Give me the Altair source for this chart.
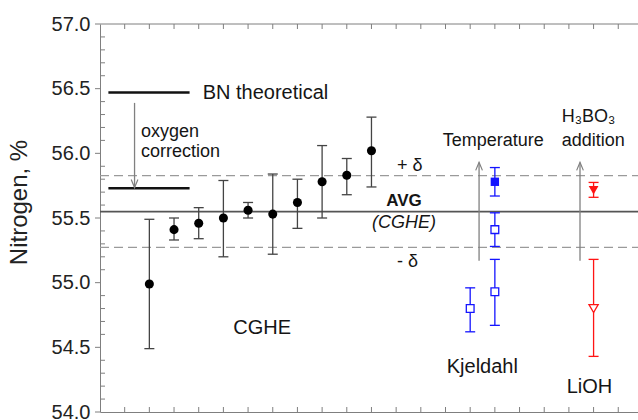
import altair as alt
import pandas as pd

# ---------------- data ----------------
# CGHE results
cghe_run = [2, 3, 4, 5, 6, 7, 8, 9, 10, 11]
cghe_n = [54.99, 55.41, 55.46, 55.50, 55.56, 55.53, 55.62, 55.78, 55.83, 56.02]
cghe_lo = [54.49, 55.33, 55.34, 55.20, 55.50, 55.22, 55.42, 55.50, 55.68, 55.74]
cghe_hi = [55.49, 55.50, 55.58, 55.79, 55.62, 55.84, 55.80, 56.06, 55.96, 56.28]

# Kjeldahl results (open = low temperature, filled = high temperature)
kj_open_run = [15, 16, 16]
kj_open_n = [54.80, 54.93, 55.41]
kj_open_lo = [54.62, 54.67, 55.28]
kj_open_hi = [54.96, 55.18, 55.54]
kj_fill_run = [16]
kj_fill_n = [55.78]
kj_fill_lo = [55.67]
kj_fill_hi = [55.89]

# LiOH results (open = without, filled = with H3BO3 addition)
li_open_run = [20]
li_open_n = [54.80]
li_open_lo = [54.43]
li_open_hi = [55.18]
li_fill_run = [20]
li_fill_n = [55.715]
li_fill_lo = [55.66]
li_fill_hi = [55.775]

# reference levels
bn_theoretical = 56.47
bn_corrected = 55.73
avg_cghe = 55.55
delta = 0.277

X_MAX = 21.8
y_major = [54.0, 54.5, 55.0, 55.5, 56.0, 56.5, 57.0]
y_minor = [round(54.0 + 0.1 * i, 1) for i in range(31) if i % 5 != 0]
x_ticks = list(range(1, 22))

# annotations (data coordinates)
ann_big = pd.DataFrame({
    "t": ["BN theoretical", "CGHE", "Kjeldahl", "LiOH"],
    "x": [4.16, 5.40, 14.05, 18.91],
    "y": [56.418, 54.60, 54.30, 54.145],
})
ann_mid = pd.DataFrame({
    "t": ["oxygen", "correction", "Temperature", "addition", "H\u2083BO\u2083", "+ \u03b4", "- \u03b4"],
    "x": [1.66, 1.66, 13.89, 18.71, 18.71, 12.03, 12.03],
    "y": [56.124, 55.974, 56.057, 56.057, 56.245, 55.863, 55.123],
})
ann_avg = pd.DataFrame({"t": ["AVG"], "x": [12.32], "y": [55.593]})
ann_cghe = pd.DataFrame({"t": ["(CGHE)"], "x": [12.32], "y": [55.42]})

# ---------------- styles ----------------
FONT = "Liberation Sans"
GRAY = "#7f7f7f"
TXT = "#151515"

X_SCALE = alt.Scale(domain=[0, X_MAX], nice=False, zero=False)
Y_SCALE = alt.Scale(domain=[54, 57], nice=False, zero=False)
x_axis = alt.Axis(title=None, labels=False, ticks=False, grid=False,
                  domainColor=GRAY, domainWidth=1)
y_axis = alt.Axis(title="Nitrogen, %", values=y_major, format=".1f", ticks=False,
                  grid=False, labelPadding=10, labelFontSize=20, labelFont=FONT,
                  labelColor="#222222", titleFontSize=24, titleFont=FONT,
                  titleFontWeight="normal", titleColor="#222222", titleX=-73.5,
                  titleY=178, titleAngle=270, titleAlign="center",
                  titleBaseline="alphabetic", domainColor=GRAY, domainWidth=1)


def X(f):
    return alt.X(f, type="quantitative", scale=X_SCALE, axis=x_axis)


def Y(f):
    return alt.Y(f, type="quantitative", scale=Y_SCALE, axis=y_axis)


layers = []

# ----- frame: top border and tick marks -----
top_df = pd.DataFrame({"x1": [0.0], "x2": [X_MAX], "y": [57.0]})
layers.append(alt.Chart(top_df).mark_rule(color=GRAY, strokeWidth=1).encode(
    x=X("x1"), x2=alt.X2("x2"), y=Y("y")))

xt_df = pd.DataFrame({"x": x_ticks})
layers.append(alt.Chart(xt_df).mark_rule(color=GRAY, strokeWidth=1).encode(
    x=X("x"), y=alt.value(388), y2=alt.value(383)))
layers.append(alt.Chart(xt_df).mark_rule(color=GRAY, strokeWidth=1).encode(
    x=X("x"), y=alt.value(0), y2=alt.value(5)))

ymaj_df = pd.DataFrame({"y": y_major})
ymin_df = pd.DataFrame({"y": y_minor})
layers.append(alt.Chart(ymaj_df).mark_rule(color=GRAY, strokeWidth=1).encode(
    y=Y("y"), x=alt.value(-5), x2=alt.value(0)))
layers.append(alt.Chart(ymin_df).mark_rule(color=GRAY, strokeWidth=1).encode(
    y=Y("y"), x=alt.value(0), x2=alt.value(5)))

# ----- reference levels -----
lvl_df = pd.DataFrame({
    "x1": [0.0], "x2": [X_MAX], "avg": [avg_cghe],
    "up": [avg_cghe + delta], "dn": [avg_cghe - delta],
})
layers.append(alt.Chart(lvl_df).mark_rule(color="#555555", strokeWidth=1.8).encode(
    x=X("x1"), x2=alt.X2("x2"), y=Y("avg")))
layers.append(alt.Chart(lvl_df).mark_rule(color="#9a9a9a", strokeWidth=1.3,
                                          strokeDash=[9, 5]).encode(
    x=X("x1"), x2=alt.X2("x2"), y=Y("up")))
layers.append(alt.Chart(lvl_df).mark_rule(color="#9a9a9a", strokeWidth=1.3,
                                          strokeDash=[9, 5]).encode(
    x=X("x1"), x2=alt.X2("x2"), y=Y("dn")))

bn_df = pd.DataFrame({"x1": [0.34, 0.34], "x2": [3.63, 3.63],
                      "y": [bn_theoretical, bn_corrected]})
layers.append(alt.Chart(bn_df).mark_rule(color="#111111", strokeWidth=2.4).encode(
    x=X("x1"), x2=alt.X2("x2"), y=Y("y")))

# ----- arrows -----
arr_df = pd.DataFrame({
    "x": [1.40, 15.36, 19.45],
    "y1": [56.39, 55.17, 55.17],
    "y2": [55.735, 55.93, 55.93],
})
layers.append(alt.Chart(arr_df).mark_rule(color="#808080", strokeWidth=1.3).encode(
    x=X("x"), y=Y("y1"), y2=alt.Y2("y2")))
head_dn = arr_df.iloc[[0]]
head_up = arr_df.iloc[[1, 2]]
layers.append(alt.Chart(head_dn).mark_point(
    shape="M -0.42 -1 L 0 0 L 0.42 -1", size=256, filled=False, opacity=1,
    color="#808080", strokeWidth=1.2).encode(x=X("x"), y=Y("y2")))
layers.append(alt.Chart(head_up).mark_point(
    shape="M -0.42 1 L 0 0 L 0.42 1", size=256, filled=False, opacity=1,
    color="#808080", strokeWidth=1.2).encode(x=X("x"), y=Y("y2")))


# ----- measurements with error bars -----
def series(run, n, lo, hi, color, shape, filled, size, bar_color=None):
    df = pd.DataFrame({"run": run, "n": n, "lo": lo, "hi": hi})
    bc = bar_color or color
    out = [
        alt.Chart(df).mark_rule(color=bc, strokeWidth=1.3).encode(
            x=X("run"), y=Y("lo"), y2=alt.Y2("hi")),
        alt.Chart(df).mark_tick(color=bc, orient="horizontal", size=10,
                                thickness=1.3, opacity=1).encode(x=X("run"), y=Y("lo")),
        alt.Chart(df).mark_tick(color=bc, orient="horizontal", size=10,
                                thickness=1.3, opacity=1).encode(x=X("run"), y=Y("hi")),
    ]
    if filled:
        pt = alt.Chart(df).mark_point(shape=shape, size=size, filled=True, opacity=1,
                                      color=color, strokeWidth=0)
    else:
        pt = alt.Chart(df).mark_point(shape=shape, size=size, filled=False, opacity=1,
                                      color=color, fill="white", strokeWidth=1.3)
    out.append(pt.encode(x=X("run"), y=Y("n")))
    return out


layers += series(cghe_run, cghe_n, cghe_lo, cghe_hi, "#000000", "circle", True, 82,
                 bar_color="#444444")
layers += series(kj_open_run, kj_open_n, kj_open_lo, kj_open_hi, "#1414ff", "square",
                 False, 60)
layers += series(kj_fill_run, kj_fill_n, kj_fill_lo, kj_fill_hi, "#1414ff", "square",
                 True, 70)
layers += series(li_open_run, li_open_n, li_open_lo, li_open_hi, "#ff1414",
                 "triangle-down", False, 85)
layers += series(li_fill_run, li_fill_n, li_fill_lo, li_fill_hi, "#ff1414",
                 "triangle-down", True, 95)

# ----- text annotations -----
layers.append(alt.Chart(ann_big).mark_text(font=FONT, fontSize=20, align="left",
                                           baseline="alphabetic", color=TXT).encode(
    x=X("x"), y=Y("y"), text="t:N"))
layers.append(alt.Chart(ann_mid).mark_text(font=FONT, fontSize=18, align="left",
                                           baseline="alphabetic", color=TXT).encode(
    x=X("x"), y=Y("y"), text="t:N"))
layers.append(alt.Chart(ann_avg).mark_text(font=FONT, fontSize=17, fontWeight="bold",
                                           align="center", baseline="alphabetic",
                                           color=TXT).encode(
    x=X("x"), y=Y("y"), text="t:N"))
layers.append(alt.Chart(ann_cghe).mark_text(font=FONT, fontSize=18, fontStyle="italic",
                                            align="center", baseline="alphabetic",
                                            color=TXT).encode(
    x=X("x"), y=Y("y"), text="t:N"))

chart = alt.layer(*layers).properties(
    width=538, height=388,
    autosize=alt.AutoSizeParams(type="none"),
    padding={"left": 100, "top": 24, "right": 0, "bottom": 8},
    background="white",
).configure_view(stroke=None)

chart.save("out.html", embed_options={"renderer": "svg", "actions": False})
